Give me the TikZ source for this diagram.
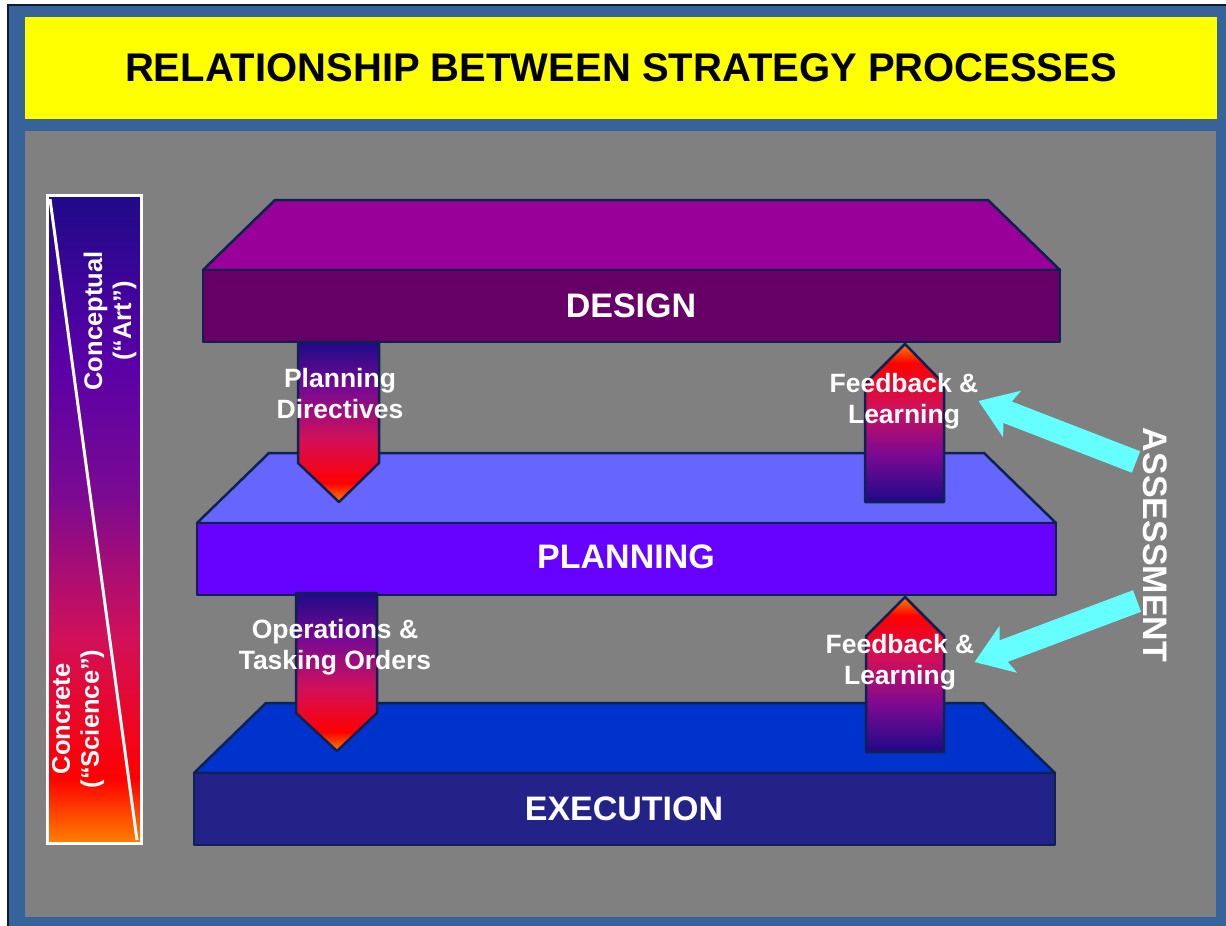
\documentclass[tikz,border=0pt]{standalone}
\usepackage{fontspec}
\setmainfont{Liberation Sans}
\usetikzlibrary{arrows.meta}

\definecolor{frameblue}{HTML}{36639A}
\definecolor{framedark}{HTML}{141830}
\definecolor{titleyellow}{HTML}{FFFF00}
\definecolor{panelgray}{HTML}{808080}
\definecolor{slabline}{HTML}{0D2250}
\definecolor{designtop}{HTML}{990099}
\definecolor{designfront}{HTML}{660066}
\definecolor{plantop}{HTML}{6666FF}
\definecolor{planfront}{HTML}{6600FF}
\definecolor{exectop}{HTML}{0033CC}
\definecolor{execfront}{HTML}{222288}
\definecolor{assesscyan}{HTML}{66FFFF}
\definecolor{flownavy}{HTML}{1E0A88}
\definecolor{flowpurple}{HTML}{7A0A92}
\definecolor{flowcrimson}{HTML}{D0105A}
\definecolor{flowtip}{HTML}{FF8000}
\definecolor{barviolet}{HTML}{5A00A8}

% gradients for the flow arrows and the side bar
\pgfdeclareverticalshading{flowdown}{100bp}{color(0bp)=(flowtip); color(25bp)=(flowtip); color(31bp)=(red); color(45bp)=(flowcrimson); color(60bp)=(flowpurple); color(75bp)=(flownavy); color(100bp)=(flownavy)}
\pgfdeclareverticalshading{flowup}{100bp}{color(0bp)=(flownavy); color(25bp)=(flownavy); color(40bp)=(flowpurple); color(55bp)=(flowcrimson); color(69bp)=(red); color(75bp)=(flowtip); color(100bp)=(flowtip)}
\pgfdeclareverticalshading{barfade}{100bp}{color(0bp)=(flowtip); color(25bp)=(flowtip); color(30bp)=(red); color(41bp)=(flowcrimson); color(52bp)=(flowpurple); color(62bp)=(barviolet); color(75bp)=(flownavy); color(100bp)=(flownavy)}

\begin{document}
\begin{tikzpicture}
[
x=1pt, y=-1pt,
outline/.style={draw=slabline, line width=2.5pt, line join=round},
slablabel/.style={text=white, font=\bfseries\fontsize{34}{40}\selectfont},
flowlabel/.style={text=white, align=center, inner sep=0pt, font=\bfseries\fontsize{26.5}{31}\selectfont},
barlabel/.style={text=white, align=center, inner sep=0pt, font=\bfseries\fontsize{25.5}{29}\selectfont},
assessarrow/.style={draw=assesscyan, line width=23pt, -{Stealth[length=36pt,width=50pt,inset=9pt,line width=0pt]}}
]
\useasboundingbox (0,0) rectangle (1226,926);

% frame, title strip and panel
\fill[white] (0,0) rectangle (1226,926);
\fill[frameblue] (8,5) rectangle (1226,926);
\draw[framedark, line width=1.5pt] (8,926) -- (8,5) -- (1226,5);
\fill[titleyellow] (25,17) rectangle (1217,119);
\node[font=\bfseries\fontsize{40}{48}\selectfont] (title) at (621,68) {RELATIONSHIP BETWEEN STRATEGY PROCESSES};
\fill[panelgray] (25,131) rectangle (1216,917);

% side bar
\shade[shading=barfade] (47,195) rectangle (141,843);
\draw[white, line width=3pt] (47,195) rectangle (141,843);
\draw[white, line width=3pt] (50,199) -- (137,840);
\node[barlabel, rotate=90] (art) at (110,321) {Conceptual\\(“Art”)};
\node[barlabel, rotate=90] (science) at (78,719) {Concrete\\(“Science”)};

% the three slabs
\foreach \xl/\xr/\yt/\tc/\fc in {203/1060/200/designtop/designfront,
                                 197/1056/453/plantop/planfront,
                                 194/1055/703/exectop/execfront}
{
  \fill[\tc, outline] (\xl+72,\yt) -- (\xr-72,\yt) -- (\xr,\yt+70) -- (\xl,\yt+70) -- cycle;
  \fill[\fc, outline] (\xl,\yt+70) rectangle (\xr,\yt+142);
}
\node[slablabel] (design) at (631,306) {DESIGN};
\node[slablabel] (planning) at (626,557) {PLANNING};
\node[slablabel] (execution) at (624,809) {EXECUTION};

% downward flows
\shadedraw[shading=flowdown, outline] (298,342) -- (379,342) -- (379,463) -- (339,502) -- (298,463) -- cycle;
\shadedraw[shading=flowdown, outline] (296,593) -- (377,593) -- (377,713) -- (337,751) -- (296,713) -- cycle;
% upward flows
\shadedraw[shading=flowup, outline] (865,502) -- (944,502) -- (944,384) -- (905,344) -- (865,384) -- cycle;
\shadedraw[shading=flowup, outline] (866,752) -- (944,752) -- (944,636) -- (905,597) -- (866,636) -- cycle;

\node[flowlabel] (directives) at (340,394) {Planning\\Directives};
\node[flowlabel] (orders) at (335,647) {Operations \&\\Tasking Orders};
\node[flowlabel] (learn1) at (904,401) {Feedback \&\\Learning};
\node[flowlabel] (learn2) at (900,662) {Feedback \&\\Learning};

% assessment
\node[text=white, rotate=-90, font=\bfseries\fontsize{34}{40}\selectfont] (assess) at (1155,545) {ASSESSMENT};
\coordinate (from1) at (1136,462);
\coordinate (from2) at (1137,601);
\draw[assessarrow] (from1) -- (learn1.east);
\draw[assessarrow] (from2) -- (learn2.east);
\end{tikzpicture}
\end{document}
